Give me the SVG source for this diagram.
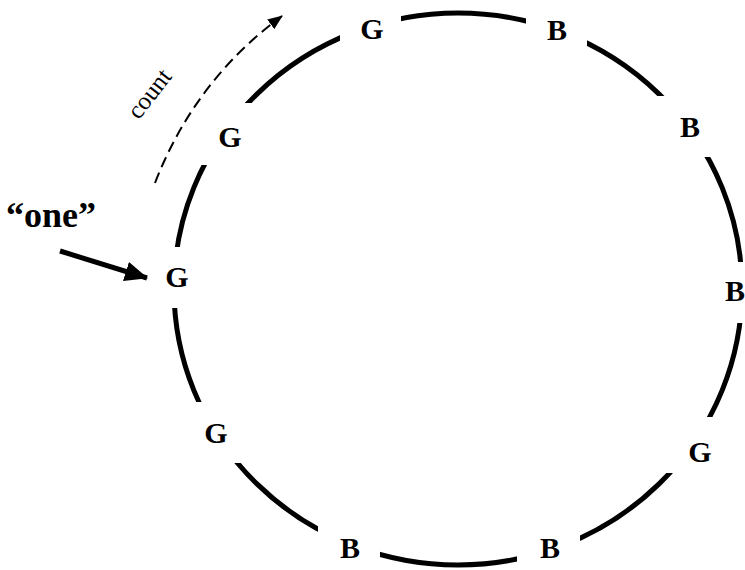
<svg xmlns="http://www.w3.org/2000/svg" width="745" height="570" viewBox="0 0 745 570">
<style>
.ring{fill:none;stroke:#000;stroke-width:5}
</style>
<defs>
<mask id="gaps" maskUnits="userSpaceOnUse" x="0" y="0" width="745" height="570">
<rect x="0" y="0" width="745" height="570" fill="#fff"/>
<rect x="340" y="0" width="61" height="60" fill="#000"/>
<rect x="526" y="0" width="61" height="70" fill="#000"/>
<rect x="640" y="96" width="105" height="61" fill="#000"/>
<rect x="690" y="262" width="55" height="61" fill="#000"/>
<rect x="640" y="417" width="105" height="56" fill="#000"/>
<rect x="517" y="500" width="63" height="70" fill="#000"/>
<rect x="318" y="500" width="62" height="70" fill="#000"/>
<rect x="150" y="402" width="110" height="61" fill="#000"/>
<rect x="140" y="247" width="60" height="61" fill="#000"/>
<rect x="180" y="103" width="100" height="62" fill="#000"/>
</mask>
<marker id="dashHead" markerUnits="userSpaceOnUse" markerWidth="16" markerHeight="12" refX="14" refY="6" orient="auto">
<path d="M0,0 L15,6 L0,12 Z" fill="#000"/>
</marker>
<marker id="bigHead" markerUnits="userSpaceOnUse" markerWidth="24" markerHeight="20" refX="22" refY="10" orient="auto">
<path d="M0,0 L23,10 L0,20 Z" fill="#000"/>
</marker>
</defs>
<g id="connectors">
<ellipse class="ring" cx="458" cy="289" rx="284" ry="276" mask="url(#gaps)"/>
<path d="M155,183 Q195,80 282,16" fill="none" stroke="#000" stroke-width="2" stroke-dasharray="11,6" marker-end="url(#dashHead)"/>
<line x1="60" y1="251" x2="147" y2="278" stroke="#000" stroke-width="5" marker-end="url(#bigHead)"/>
</g>
<g id="n1"><text font-family="Liberation Serif" font-weight="bold" font-size="30" text-anchor="middle" x="372" y="39">G</text></g>
<g id="n2"><text font-family="Liberation Serif" font-weight="bold" font-size="30" text-anchor="middle" x="557" y="40">B</text></g>
<g id="n3"><text font-family="Liberation Serif" font-weight="bold" font-size="30" text-anchor="middle" x="690" y="137">B</text></g>
<g id="n4"><text font-family="Liberation Serif" font-weight="bold" font-size="30" text-anchor="middle" x="735" y="301">B</text></g>
<g id="n5"><text font-family="Liberation Serif" font-weight="bold" font-size="30" text-anchor="middle" x="700" y="462">G</text></g>
<g id="n6"><text font-family="Liberation Serif" font-weight="bold" font-size="30" text-anchor="middle" x="550" y="558">B</text></g>
<g id="n7"><text font-family="Liberation Serif" font-weight="bold" font-size="30" text-anchor="middle" x="350" y="558">B</text></g>
<g id="n8"><text font-family="Liberation Serif" font-weight="bold" font-size="30" text-anchor="middle" x="216" y="443">G</text></g>
<g id="n9"><text font-family="Liberation Serif" font-weight="bold" font-size="30" text-anchor="middle" x="177" y="287">G</text></g>
<g id="n10"><text font-family="Liberation Serif" font-weight="bold" font-size="30" text-anchor="middle" x="230" y="147">G</text></g>
<g id="one"><text font-family="Liberation Serif" x="6" y="227" font-weight="bold" font-size="36">“one”</text></g>
<g id="count"><text font-family="Liberation Serif" transform="translate(151,95) rotate(-52)" x="0" y="6" text-anchor="middle" font-size="25">count</text></g>
</svg>
